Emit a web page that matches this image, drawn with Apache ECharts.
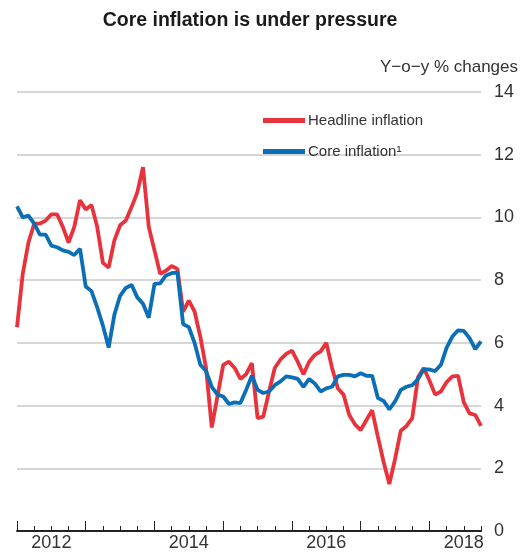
<!DOCTYPE html>
<html>
<head>
<meta charset="utf-8">
<script src="https://cdn.jsdelivr.net/npm/echarts@6/dist/echarts.min.js"></script>
<style>
    html, body { margin: 0; padding: 0; background: #fff; }
    #chart { width: 526px; height: 559px; }
</style>
</head>
<body>
<div id="chart"></div>
<script type="text/javascript">
// monthly, Jan 2012 .. Oct 2018
const startYear = 2012;
const headline = [
    6.5, 8.2, 9.2, 9.8, 9.8, 9.9, 10.1, 10.1, 9.7, 9.2, 9.7, 10.55,
    10.25, 10.4, 9.7, 8.55, 8.4, 9.27, 9.75, 9.9, 10.33, 10.8, 11.6, 9.7,
    8.95, 8.2, 8.3, 8.45, 8.36, 7.0, 7.35, 7.0, 6.2, 5.2, 3.3, 4.3,
    5.3, 5.4, 5.2, 4.85, 5.0, 5.35, 3.6, 3.65, 4.45, 5.2, 5.47, 5.65,
    5.75, 5.4, 5.0, 5.4, 5.62, 5.73, 6.0, 5.2, 4.55, 4.35, 3.7, 3.4,
    3.22, 3.54, 3.85, 3.0, 2.2, 1.5, 2.3, 3.2, 3.35, 3.6, 4.9, 5.2,
    4.8, 4.35, 4.45, 4.75, 4.93, 4.95, 4.1, 3.75, 3.7, 3.35
];
const core = [
    10.35, 10.0, 10.06, 9.8, 9.45, 9.45, 9.1, 9.05, 8.95, 8.9, 8.8, 9.0,
    7.8, 7.65, 7.13, 6.55, 5.85, 6.9, 7.5, 7.75, 7.85, 7.45, 7.25, 6.8,
    7.88, 7.9, 8.15, 8.22, 8.25, 6.6, 6.5, 6.0, 5.3, 5.1, 4.6, 4.35,
    4.29, 4.05, 4.1, 4.08, 4.5, 4.95, 4.5, 4.4, 4.45, 4.65, 4.77, 4.93,
    4.9, 4.85, 4.6, 4.85, 4.7, 4.45, 4.55, 4.6, 4.93, 4.98, 4.98, 4.93,
    5.03, 4.95, 4.95, 4.24, 4.15, 3.88, 4.13, 4.5, 4.6, 4.65, 4.85, 5.15,
    5.15, 5.1, 5.3, 5.85, 6.2, 6.4, 6.38, 6.15, 5.8, 6.05
];
const yearTicks = [2012, 2013, 2014, 2015, 2016, 2017, 2018];
const yearLabels = [2012.5, 2014.5, 2016.5, 2018.5];
const yTicks = [0, 2, 4, 6, 8, 10, 12, 14];

const FONT = '"Liberation Sans", Arial, sans-serif';
const RED = '#e8323c';
const BLUE = '#0a6fb6';

function toPairs(arr){
    let out = [];
    for(let i = 0; i < arr.length; i++){
        out.push([startYear + i / 12, arr[i]]);
    }
    return out;
}

const chart = echarts.init(document.getElementById('chart'), null, {renderer: 'canvas'});
chart.setOption({
    animation: false,
    title: [{
        text: 'Core inflation is under pressure',
        left: 245,
        textAlign: 'center',
        top: 6,
        textStyle: {fontFamily: FONT, fontSize: 19.5, fontWeight: 'bold', color: '#1a1a1a'}
    }, {
        text: 'Y\u2212o\u2212y % changes',
        right: 3,
        top: 54,
        textStyle: {fontFamily: FONT, fontSize: 17, fontWeight: 'normal', color: '#333'}
    }],
    legend: {
        orient: 'vertical',
        left: 258,
        top: 108,
        itemGap: 16,
        itemWidth: 42,
        itemHeight: 5,
        icon: 'rect',
        textStyle: {fontFamily: FONT, fontSize: 15, color: '#333', padding: [0, 0, 0, -2]},
        data: ['Headline inflation', 'Core inflation\u00b9']
    },
    grid: {left: 17, right: 45, top: 92, bottom: 28},
    xAxis: [{
        // quarterly small ticks + year labels
        type: 'value',
        position: 'bottom',
        min: 2012,
        max: 2018.75,
        interval: 0.25,
        axisLine: {show: true, lineStyle: {color: '#222', width: 2}},
        axisTick: {show: true, inside: true, length: 5, lineStyle: {color: '#222', width: 1}},
        axisLabel: {
            customValues: yearLabels,
            formatter: v => String(Math.floor(v)),
            fontFamily: FONT, fontSize: 18, color: '#333', margin: 3
        },
        splitLine: {show: false}
    }, {
        // year ticks
        type: 'value',
        position: 'bottom',
        min: 2012,
        max: 2018.75,
        axisLine: {show: false},
        axisTick: {show: true, inside: true, length: 10, customValues: yearTicks, lineStyle: {color: '#222', width: 1}},
        axisLabel: {show: false},
        splitLine: {show: false}
    }],
    yAxis: {
        type: 'value',
        position: 'right',
        min: 0,
        max: 14,
        interval: 2,
        axisLine: {show: false},
        axisTick: {show: false},
        axisLabel: {
            customValues: yTicks,
            fontFamily: FONT, fontSize: 18, color: '#333', margin: 13
        },
        splitLine: {show: true, lineStyle: {color: '#d6d6d6', width: 2}}
    },
    series: [{
        name: 'Headline inflation',
        type: 'line',
        data: toPairs(headline),
        showSymbol: false,
        itemStyle: {color: RED},
        lineStyle: {color: RED, width: 3.8},
        z: 3
    }, {
        name: 'Core inflation\u00b9',
        type: 'line',
        data: toPairs(core),
        showSymbol: false,
        itemStyle: {color: BLUE},
        lineStyle: {color: BLUE, width: 3.8},
        z: 4
    }]
});
</script>
</body>
</html>
